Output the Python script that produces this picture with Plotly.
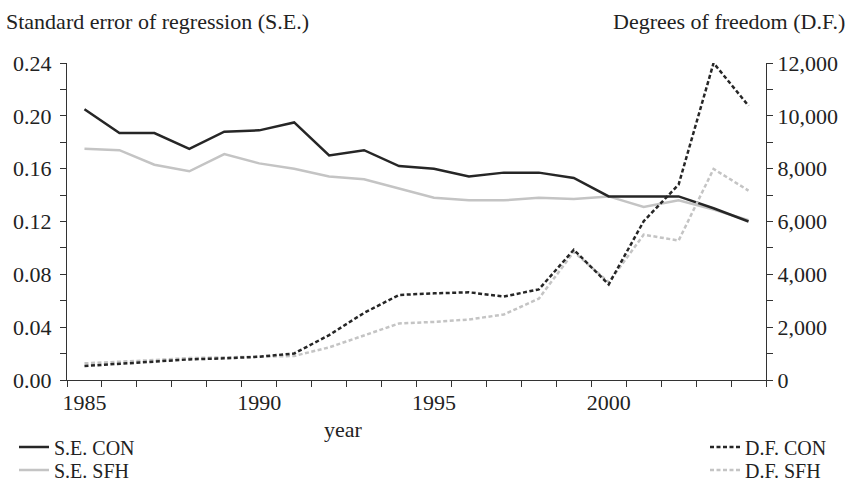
import plotly.graph_objects as go

years = list(range(1985, 2005))

se_con = [0.205, 0.187, 0.187, 0.175, 0.188, 0.189, 0.195, 0.170, 0.174, 0.162,
          0.160, 0.154, 0.157, 0.157, 0.153, 0.139, 0.139, 0.139, 0.130, 0.120]
se_sfh = [0.175, 0.174, 0.163, 0.158, 0.171, 0.164, 0.160, 0.154, 0.152, 0.145,
          0.138, 0.136, 0.136, 0.138, 0.137, 0.139, 0.131, 0.136, 0.129, 0.121]
df_con = [530, 605, 690, 780, 820, 880, 1005, 1700, 2540, 3220,
          3280, 3320, 3160, 3430, 4930, 3620, 6010, 7400, 12000, 10380]
df_sfh = [630, 680, 755, 830, 865, 880, 910, 1235, 1700, 2140,
          2200, 2290, 2480, 3080, 4850, 3700, 5500, 5280, 7990, 7170]

FONT = "Liberation Serif"
FS = 22
LEG_FS = 20
DARK = "#262626"
GREY = "#c4c4c4"
TXT = "#222222"
DOTS = "4px,2.5px"

fig = go.Figure()

# grey series first so the black ones sit on top
fig.add_trace(go.Scatter(x=years, y=se_sfh, name="S.E. SFH", mode="lines", showlegend=True,
                         line=dict(color=GREY, width=2.5), legend="legend2"))
fig.add_trace(go.Scatter(x=years, y=df_sfh, name="D.F. SFH", mode="lines", yaxis="y2",
                         showlegend=True, line=dict(color=GREY, width=2.5, dash=DOTS),
                         legend="legend4"))
fig.add_trace(go.Scatter(x=years, y=se_con, name="S.E. CON", mode="lines", showlegend=True,
                         line=dict(color=DARK, width=2.5), legend="legend"))
fig.add_trace(go.Scatter(x=years, y=df_con, name="D.F. CON", mode="lines", yaxis="y2",
                         showlegend=True, line=dict(color=DARK, width=2.5, dash=DOTS),
                         legend="legend3"))

axis_common = dict(showline=True, linecolor="#333333", linewidth=1.3, showgrid=False,
                   zeroline=False, tickcolor="#333333", ticks="outside", ticklen=6,
                   automargin=False, tickfont=dict(family=FONT, size=FS, color=TXT))


def one_legend(px_x, px_y):
    # a legend holding a single entry, placed in page pixels
    return dict(xref="container", yref="container", x=px_x / 859, y=1 - px_y / 489,
                xanchor="left", yanchor="middle", bgcolor="rgba(0,0,0,0)",
                font=dict(family=FONT, size=LEG_FS, color=TXT))


fig.update_layout(
    width=859, height=489,
    showlegend=True,
    margin=dict(l=67, r=93, t=63, b=109, autoexpand=False),
    plot_bgcolor="white", paper_bgcolor="white",
    font=dict(family=FONT, size=FS, color=TXT),
    xaxis=dict(range=[1984.5, 2004.5], tickvals=[1985, 1990, 1995, 2000],
               showline=True, linecolor="#333333", linewidth=1.3, showgrid=False,
               zeroline=False, ticks="", ticklabelstandoff=2, automargin=False,
               tickfont=dict(family=FONT, size=FS, color=TXT),
               minor=dict(tick0=1984.5, dtick=1, ticks="outside", ticklen=6,
                          tickcolor="#333333", showgrid=False)),
    yaxis=dict(range=[0, 0.24], dtick=0.04, tickformat=".2f", ticklabelstandoff=4,
               minor=dict(dtick=0.02, ticks="outside", ticklen=6,
                          tickcolor="#333333", showgrid=False),
               **axis_common),
    yaxis2=dict(range=[0, 12000], dtick=2000, tickformat=",", overlaying="y", side="right",
                minor=dict(dtick=1000, ticks="outside", ticklen=6,
                           tickcolor="#333333", showgrid=False),
                **axis_common),
    legend=one_legend(14, 447),
    legend2=one_legend(14, 470),
    legend3=one_legend(705, 447),
    legend4=one_legend(705, 470),
    annotations=[
        dict(text="Standard error of regression (S.E.)", xref="paper", yref="paper",
             x=-63 / 699, y=1.13, xanchor="left", yanchor="middle", showarrow=False,
             font=dict(family=FONT, size=FS)),
        dict(text="Degrees of freedom (D.F.)", xref="paper", yref="paper",
             x=1 + 81 / 699, y=1.13, xanchor="right", yanchor="middle", showarrow=False,
             font=dict(family=FONT, size=FS)),
        dict(text="year", xref="x", yref="paper", x=1992.4, y=-0.155,
             xanchor="center", yanchor="middle", showarrow=False,
             font=dict(family=FONT, size=FS)),
    ],
)

fig.write_html("out.html", config={"displayModeBar": False},
               post_script="document.body.style.margin = '0';")
